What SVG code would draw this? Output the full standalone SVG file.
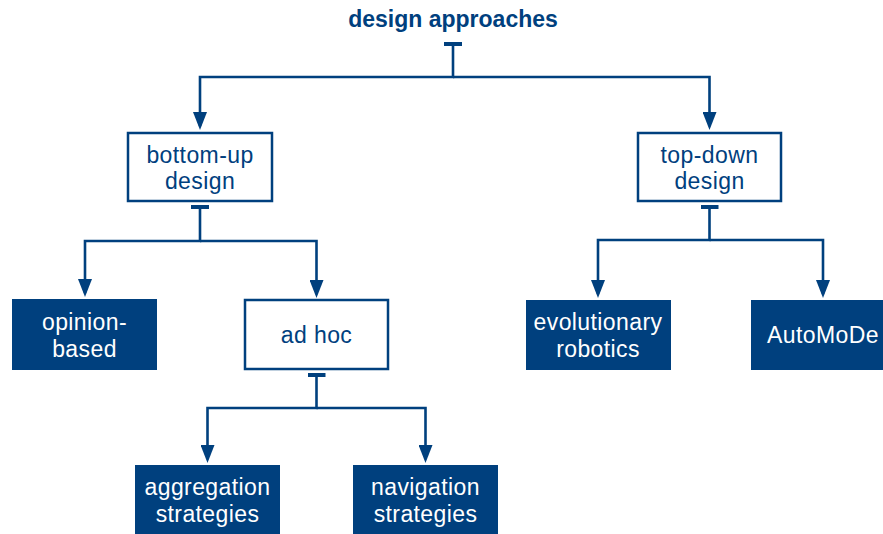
<svg xmlns="http://www.w3.org/2000/svg" width="883" height="534" viewBox="0 0 883 534">
<style>
.bg{fill:#ffffff}
.title{font-family:"Liberation Sans",Arial,sans-serif;font-weight:bold;font-size:23px;fill:#00407e;text-anchor:middle}
.lbl{font-family:"Liberation Sans",Arial,sans-serif;font-size:23px;letter-spacing:0.4px;text-anchor:middle}
.outline rect{fill:#ffffff;stroke:#00407e;stroke-width:2.5}
.outline text{fill:#00407e}
.filled rect{fill:#00407e;stroke:none}
.filled text{fill:#ffffff}
.conn path{fill:none;stroke:#00407e;stroke-width:2.6;marker-end:url(#arrow)}
.conn path.stem{marker-start:url(#tee)}
</style>
<defs>
<marker id="arrow" viewBox="0 0 18 14" refX="14" refY="7" markerWidth="18" markerHeight="14" markerUnits="userSpaceOnUse" orient="auto">
<path d="M0,0 L18,7 L0,14 z" fill="#00407e"/>
</marker>
<marker id="tee" viewBox="0 0 4 18" refX="2" refY="9" markerWidth="4" markerHeight="18" markerUnits="userSpaceOnUse" orient="auto">
<rect x="0" y="0" width="4" height="18" fill="#00407e"/>
</marker>
</defs>
<rect class="bg" x="0" y="0" width="883" height="534"/>
<g id="design-approaches">
<text class="title" x="453" y="27">design approaches</text>
</g>
<g id="connectors" class="conn">
<path class="stem" d="M453,44 V77 H200 V126"/>
<path d="M453,77 H709.5 V126"/>
<path class="stem" d="M200,207 V241 H85 V293"/>
<path d="M200,241 H316.5 V294"/>
<path class="stem" d="M709.5,207 V240 H598 V294"/>
<path d="M709.5,240 H823 V294"/>
<path class="stem" d="M316.5,375 V408 H207.5 V459"/>
<path d="M316.5,408 H425.5 V459"/>
</g>
<g id="bottom-up" class="outline">
<rect x="128" y="133" width="144" height="68"/>
<text class="lbl" x="200" y="163">bottom-up</text>
<text class="lbl" x="200" y="189">design</text>
</g>
<g id="top-down" class="outline">
<rect x="638" y="133" width="143" height="68"/>
<text class="lbl" x="709.5" y="163">top-down</text>
<text class="lbl" x="709.5" y="189">design</text>
</g>
<g id="opinion-based" class="filled">
<rect x="12" y="299" width="145" height="71"/>
<text class="lbl" x="84.5" y="330">opinion-</text>
<text class="lbl" x="84.5" y="357">based</text>
</g>
<g id="ad-hoc" class="outline">
<rect x="245" y="300" width="143" height="69"/>
<text class="lbl" x="316.5" y="343">ad hoc</text>
</g>
<g id="evolutionary-robotics" class="filled">
<rect x="526" y="300" width="145" height="70"/>
<text class="lbl" x="598" y="330">evolutionary</text>
<text class="lbl" x="598" y="357">robotics</text>
</g>
<g id="automode" class="filled">
<rect x="751" y="300" width="145" height="70"/>
<text class="lbl" x="823" y="343">AutoMoDe</text>
</g>
<g id="aggregation-strategies" class="filled">
<rect x="135" y="465" width="145" height="80"/>
<text class="lbl" x="207.5" y="495">aggregation</text>
<text class="lbl" x="207.5" y="522">strategies</text>
</g>
<g id="navigation-strategies" class="filled">
<rect x="353" y="465" width="145" height="80"/>
<text class="lbl" x="425.5" y="495">navigation</text>
<text class="lbl" x="425.5" y="522">strategies</text>
</g>
</svg>
